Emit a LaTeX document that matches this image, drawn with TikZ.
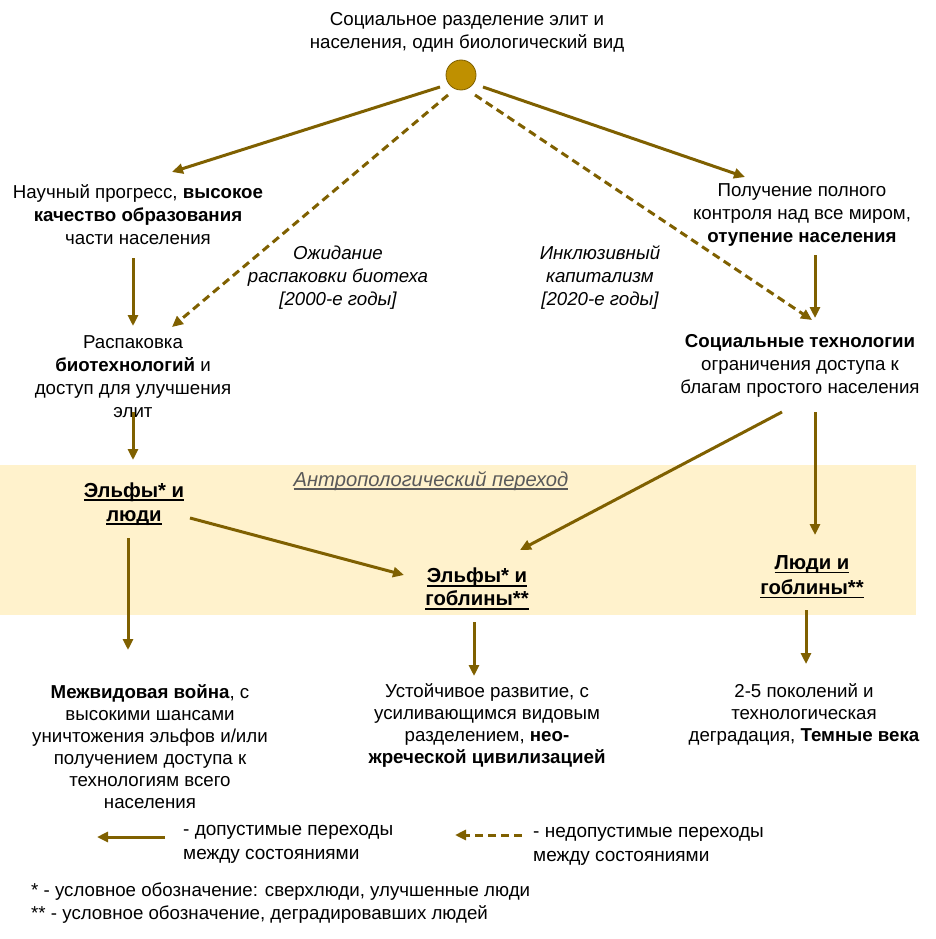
\documentclass[tikz,border=0pt]{standalone}
\usepackage{fontspec}
\setmainfont{Liberation Sans}
\usetikzlibrary{arrows.meta}
\definecolor{arrc}{RGB}{127,96,0}
\definecolor{circf}{RGB}{191,144,0}
\definecolor{bandc}{RGB}{255,242,204}
\definecolor{anthc}{RGB}{89,89,89}
\newsavebox\myulbox
\newcommand{\myul}[1]{\sbox\myulbox{#1}\rlap{\rule[-3.8pt]{\wd\myulbox}{1.7pt}}\usebox\myulbox}
\tikzset{
  txt/.style={align=center, font=\fontsize{18.7}{23}\selectfont, inner sep=0pt},
  btxt/.style={align=center, font=\fontsize{18.7}{22}\selectfont, inner sep=0pt},
  arr/.style={draw=arrc, line width=3pt, -{Triangle[length=11pt,width=10pt]}},
  darr/.style={arr, dash pattern=on 8pt off 5pt},
}
\begin{document}
\begin{tikzpicture}[x=1pt,y=-1pt]
\useasboundingbox (0,0) rectangle (936,939);
\fill[bandc] (0,465) rectangle (916,615);
\node[txt] (top) at (467,32) {Социальное разделение элит и\\населения, один биологический вид};
\node[circle, fill=circf, draw=arrc, line width=0.8pt, minimum size=30pt, inner sep=0pt] (circ) at (461,75) {};
\node[txt] (n1) at (138,215) {Научный прогресс, \textbf{высокое}\\\textbf{качество образования}\\части населения};
\node[txt] (n2) at (133,377) {Распаковка\\\textbf{биотехнологий} и\\доступ для улучшения\\элит};
\node[txt] (r1) at (802,215) {Получение полного\\контроля над все миром,\\\textbf{отупение населения}};
\node[txt] (r2) at (800,366) {\textbf{Социальные технологии}\\ограничения доступа к\\благам простого населения};
\node[txt, font=\fontsize{18.7}{23}\selectfont\itshape] (lab1) at (338,278) {Ожидание\\распаковки биотеха\\{[2000-е годы]}};
\node[txt, font=\fontsize{18.7}{23}\selectfont\itshape] (lab2) at (600,278) {Инклюзивный\\капитализм\\{[2020-е годы]}};
\node[txt, text=anthc, font=\itshape\fontsize{20.2}{24}\selectfont] (anth) at (431,481) {\myul{Антропологический переход}};
\node[txt, font=\bfseries\fontsize{20.3}{24}\selectfont] (e1) at (134,504) {\myul{Эльфы* и}\\\myul{люди}};
\node[txt, font=\bfseries\fontsize{20.3}{23}\selectfont] (e2) at (477,589) {\myul{Эльфы* и}\\\myul{гоблины**}};
\node[txt, font=\bfseries\fontsize{20.3}{25}\selectfont] (e3) at (812,577) {\myul{Люди и}\\\myul{гоблины**}};
\node[btxt] (b1) at (150,747) {\textbf{Межвидовая война}, с\\высокими шансами\\уничтожения эльфов и/или\\получением доступа к\\технологиям всего\\населения};
\node[btxt] (b2) at (487,725) {Устойчивое развитие, с\\усиливающимся видовым\\разделением, \textbf{нео-}\\\textbf{жреческой цивилизацией}};
\node[btxt] (b3) at (804,714) {2-5 поколений и\\технологическая\\деградация, \textbf{Темные века}};
% connectors
\draw[arr] ([shift={(-21,12)}]circ.center) -- ([shift={(34,-43)}]n1.center);
\draw[arr] ([shift={(22,12)}]circ.center) -- ([shift={(-57,-38)}]r1.center);
\draw[darr] ([shift={(-13,20)}]circ.center) -- ([shift={(39,-50)}]n2.center);
\draw[darr] ([shift={(14,20)}]circ.center) -- ([shift={(12,-46)}]r2.center);
\draw[arr] ([shift={(-5,43)}]n1.center) -- ([shift={(0,-51)}]n2.center);
\draw[arr] ([shift={(0,35)}]n2.center) -- ([shift={(-1,-44)}]e1.center);
\draw[arr] ([shift={(13,40)}]r1.center) -- ([shift={(15,-48)}]r2.center);
\draw[arr] ([shift={(-18,46)}]r2.center) -- ([shift={(43,-39)}]e2.center);
\draw[arr] ([shift={(15,46)}]r2.center) -- ([shift={(3,-42)}]e3.center);
\draw[arr] ([shift={(56,14)}]e1.center) -- ([shift={(-73,-14)}]e2.center);
\draw[arr] ([shift={(-6,34)}]e1.center) -- ([shift={(-22,-97)}]b1.center);
\draw[arr] ([shift={(-3,33)}]e2.center) -- ([shift={(-13,-49)}]b2.center);
\draw[arr] ([shift={(-6,33)}]e3.center) -- ([shift={(2,-50)}]b3.center);
% legend
\coordinate (ls1) at (165,837);
\coordinate (le1) at (97,837);
\draw[arr] (ls1) -- (le1);
\node[btxt, anchor=west, align=left, font=\fontsize{19}{24}\selectfont] (l1) at (183,844) {- допустимые переходы\\между состояниями};
\coordinate (ls2) at (522,835);
\coordinate (le2) at (455,835);
\draw[darr] (ls2) -- (le2);
\node[btxt, anchor=west, align=left, font=\fontsize{19}{24}\selectfont] (l2) at (533,846) {- недопустимые переходы\\между состояниями};
\node[btxt, anchor=west, align=left] (f1) at (31,892) {* - условное обозначение: сверхлюди, улучшенные люди};
\node[btxt, anchor=west, align=left] (f2) at (31,914) {** - условное обозначение, деградировавших людей};
\end{tikzpicture}
\end{document}
